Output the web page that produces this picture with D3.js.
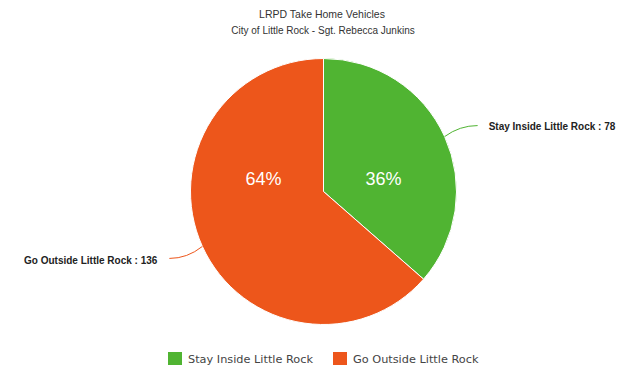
<!DOCTYPE html>
<html>
<head>
<meta charset="utf-8">
<script src="https://cdn.jsdelivr.net/npm/d3@7"></script>
<style>
	body { margin: 0; background: #fff; }
	svg { font-family: "Liberation Sans", Arial, sans-serif; }
</style>
</head>
<body>
<svg id="chart" width="640" height="376"></svg>
<script>
// chart data
var categories = ["Stay Inside Little Rock", "Go Outside Little Rock"];
var values = [78, 136];
var colors = ["#50b432", "#ed561b"];
var title = "LRPD Take Home Vehicles";
var subtitle = "City of Little Rock - Sgt. Rebecca Junkins";

function makeChart() {
	var svg = d3.select("#chart"),
		cx = 323.5,
		cy = 191.5,
		r = 133;

	var total = d3.sum(values);
	var slices = categories.map((c, i) => ({ name: c, value: values[i], color: colors[i] }));

	// titles
	svg.append("text")
		.attr("x", 322).attr("y", 18)
		.attr("text-anchor", "middle")
		.attr("font-size", "10.5px").attr("fill", "#333")
		.text(title);
	svg.append("text")
		.attr("x", 323).attr("y", 34)
		.attr("text-anchor", "middle")
		.attr("font-size", "10px").attr("fill", "#333")
		.text(subtitle);

	var pie = d3.pie().sort(null).value(d => d.value);
	var arc = d3.arc().innerRadius(0).outerRadius(r);
	var arcs = pie(slices);

	var g = svg.append("g").attr("transform", "translate(" + cx + "," + cy + ")");

	g.selectAll("path.slice")
		.data(arcs).enter()
		.append("path").attr("class", "slice")
		.attr("d", arc)
		.attr("fill", d => d.data.color)
		.attr("stroke", "#fff")
		.attr("stroke-width", 1);

	// percent labels inside the slices (same row, x from the slice centroid)
	var inner = d3.arc().innerRadius(66).outerRadius(66);
	g.selectAll("text.pct")
		.data(arcs).enter()
		.append("text").attr("class", "pct")
		.attr("x", d => inner.centroid(d)[0])
		.attr("y", -7)
		.attr("text-anchor", "middle")
		.attr("font-size", "18px").attr("fill", "#fff")
		.text(d => Math.round(d.data.value / total * 100) + "%");

	// connector lines and outside labels
	g.selectAll("path.conn")
		.data(arcs).enter()
		.append("path").attr("class", "conn")
		.attr("fill", "none")
		.attr("stroke", d => d.data.color)
		.attr("stroke-width", 1)
		.attr("d", d => {
			var a = (d.startAngle + d.endAngle) / 2,
				x0 = Math.sin(a) * r, y0 = -Math.cos(a) * r,
				side = Math.sin(a) > 0 ? 1 : -1,
				x2 = x0 + side * 33, y2 = y0 + (y0 < 0 ? -11 : 12);
			return "M" + x0 + "," + y0 + "Q" + (x0 + side * 15) + "," + y2 + " " + x2 + "," + y2;
		});

	g.selectAll("text.lbl")
		.data(arcs).enter()
		.append("text").attr("class", "lbl")
		.attr("x", d => {
			var a = (d.startAngle + d.endAngle) / 2;
			return Math.sin(a) * r + (Math.sin(a) > 0 ? 44 : -45);
		})
		.attr("y", d => {
			var a = (d.startAngle + d.endAngle) / 2, y0 = -Math.cos(a) * r;
			return y0 + (y0 < 0 ? -7 : 18);
		})
		.attr("text-anchor", d => Math.sin((d.startAngle + d.endAngle) / 2) > 0 ? "start" : "end")
		.attr("font-size", "10px").attr("font-weight", "bold").attr("fill", "#222")
		.text(d => d.data.name + " : " + d.data.value);

	// legend
	var legend = svg.append("g").attr("transform", "translate(168,352)");
	var items = legend.selectAll("g.item")
		.data(slices).enter()
		.append("g").attr("class", "item")
		.attr("transform", (d, i) => "translate(" + (i * 165) + ",0)");
	items.append("rect")
		.attr("width", 14).attr("height", 13)
		.attr("fill", d => d.color);
	items.append("text")
		.attr("x", 20).attr("y", 11)
		.attr("font-family", "'DejaVu Sans', Verdana, sans-serif")
		.attr("font-size", "11.3px").attr("fill", "#444")
		.text(d => d.name);
}

window.addEventListener('DOMContentLoaded', makeChart)
</script>
</body>
</html>
